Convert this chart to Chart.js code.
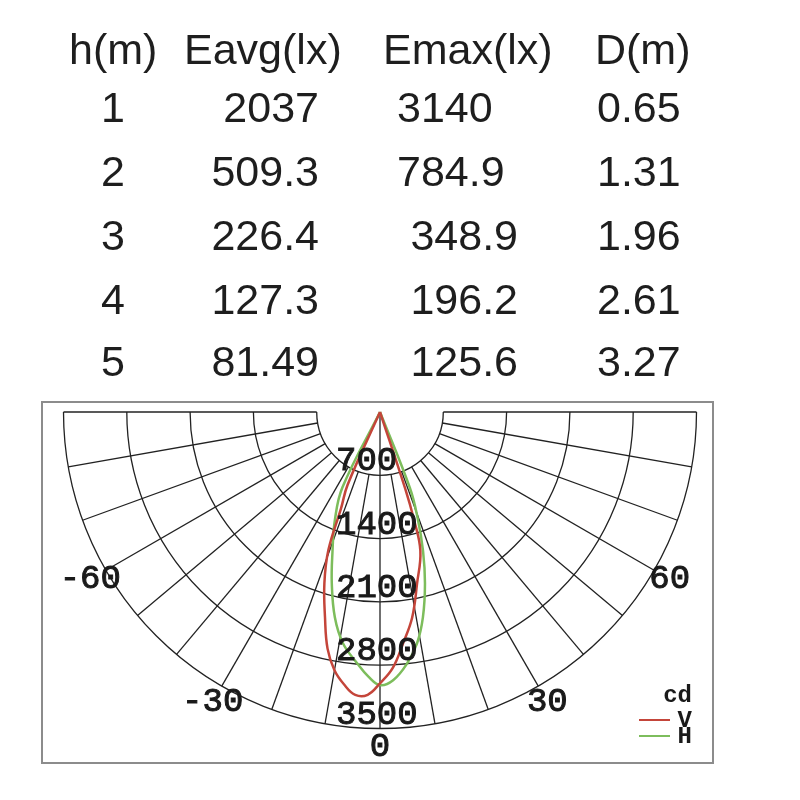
<!DOCTYPE html>
<html>
<head>
<meta charset="utf-8">
<script src="https://cdn.jsdelivr.net/npm/chart.js@4.4.1/dist/chart.umd.min.js"></script>
<style>
  html, body { margin: 0; padding: 0; background: #fff; }
  #wrap { width: 800px; height: 800px; }
</style>
</head>
<body>
<div id="wrap"><canvas id="polar" width="800" height="800"></canvas></div>
<script>
// illuminance table
const tableHeaders = ['h(m)', 'Eavg(lx)', 'Emax(lx)', 'D(m)'];
const heights = ['1', '2', '3', '4', '5'];
const eavg = ['2037', '509.3', '226.4', '127.3', '81.49'];
const emax = ['3140', '784.9', '348.9', '196.2', '125.6'];
const beamDiam = ['0.65', '1.31', '1.96', '2.61', '3.27'];

// light distribution (angle from nadir in degrees, intensity in cd)
const vAngles = [-30, -24, -22, -20.5, -18, -15, -12.5, -10, -7.5, -5, -2.5, 0, 2.9, 5.7, 8.9, 12.2, 16.2, 17.5, 18.2, 22];
const vCandela = [0, 880, 1150, 1630, 1990, 2350, 2680, 2900, 3040, 3140, 3130, 3000, 2830, 2570, 2300, 1940, 1600, 1250, 890, 0];
const hAngles = [-31, -26.5, -22.6, -18.7, -15.7, -12.4, -9.1, -5.2, -2.5, 0, 2.8, 6.1, 9.1, 11.8, 14.7, 17.2, 19.5, 21.5, 26];
const hCandela = [0, 930, 1300, 1640, 1970, 2325, 2590, 2790, 2930, 3020, 2970, 2800, 2590, 2320, 1960, 1610, 1250, 900, 0];

// axis labels
const ringValues = [700, 1400, 2100, 2800, 3500];
const angleLabels = [-60, -30, 0, 30, 60];
const unitLabel = 'cd';

// layout (pixels)
const CX = 380, CY = 412, R_PX = 316.5;
const FRAME = { left: 42, top: 402, right: 713, bottom: 763 };
const cdPerPx = ringValues[ringValues.length - 1] / R_PX;

function toXY(angles, values) {
  return angles.map((a, i) => {
    const t = a * Math.PI / 180;
    return { x: values[i] * Math.sin(t), y: -values[i] * Math.cos(t) };
  });
}

function polarPx(chart, angle, value) {
  const t = angle * Math.PI / 180;
  return [chart.scales.x.getPixelForValue(value * Math.sin(t)),
          chart.scales.y.getPixelForValue(-value * Math.cos(t))];
}

// fill + thin stroke to get the heavier look of the scanned labels
function heavyText(ctx, s, x, y, w) {
  ctx.fillText(s, x, y);
  ctx.lineWidth = w;
  ctx.strokeText(s, x, y);
}

const polarGrid = {
  id: 'polarGrid',
  beforeDatasetsDraw(chart) {
    const { ctx, chartArea } = chart;
    const [ox, oy] = polarPx(chart, 0, 0);
    const inner = ringValues[0], outer = ringValues[ringValues.length - 1];
    ctx.save();
    ctx.strokeStyle = '#8c8c8c';
    ctx.lineWidth = 2;
    ctx.strokeRect(chartArea.left, chartArea.top, chartArea.width, chartArea.height);

    ctx.strokeStyle = '#222';
    ctx.lineWidth = 1.3;
    ringValues.forEach(v => {
      const r = chart.scales.x.getPixelForValue(v) - ox;
      ctx.beginPath();
      ctx.arc(ox, oy, r, 0, Math.PI);
      ctx.stroke();
    });
    for (let a = -90; a <= 90; a += 10) {
      const [x0, y0] = polarPx(chart, a, a === 0 ? 0 : inner);
      const [x1, y1] = polarPx(chart, a, outer);
      ctx.beginPath();
      ctx.moveTo(x0, y0);
      ctx.lineTo(x1, y1);
      ctx.stroke();
    }
    ctx.restore();
  },
  afterDatasetsDraw(chart) {
    const { ctx } = chart;
    const [ox] = polarPx(chart, 0, 0);
    ctx.save();
    ctx.fillStyle = '#1a1a1a';
    ctx.strokeStyle = '#1a1a1a';

    // intensity rings
    ctx.font = '34px "Liberation Mono", "Courier New", monospace';
    ctx.textAlign = 'left';
    ctx.textBaseline = 'alphabetic';
    ringValues.forEach(v => {
      const y = chart.scales.y.getPixelForValue(-v);
      heavyText(ctx, String(v), ox - 44, y - 5, 1);
    });

    // angles
    ctx.textAlign = 'center';
    ctx.textBaseline = 'middle';
    angleLabels.forEach(a => {
      const [x, y] = polarPx(chart, a, 3700);
      heavyText(ctx, String(a), x, y, 1);
    });

    // legend
    ctx.font = 'bold 24px "Liberation Mono", "Courier New", monospace';
    ctx.textAlign = 'right';
    ctx.textBaseline = 'alphabetic';
    ctx.fillText(unitLabel, 692, 702);
    chart.data.datasets.forEach((ds, i) => {
      const base = 727 + i * 16;
      ctx.fillStyle = '#1a1a1a';
      ctx.fillText(ds.label, 692, base);
      ctx.strokeStyle = ds.borderColor;
      ctx.lineWidth = 2;
      ctx.beginPath();
      ctx.moveTo(639, base - 7);
      ctx.lineTo(670, base - 7);
      ctx.stroke();
    });
    ctx.restore();
  },
  afterDraw(chart) {
    const { ctx } = chart;
    ctx.save();
    ctx.fillStyle = '#1e1e1e';
    ctx.font = '43px "Liberation Sans", Arial, sans-serif';
    ctx.textBaseline = 'alphabetic';
    const headerX = [69, 184, 383, 595];
    ctx.textAlign = 'left';
    tableHeaders.forEach((h, i) => ctx.fillText(h, headerX[i], 64));
    const rowY = [122, 186, 250, 314, 376];
    heights.forEach((v, i) => {
      ctx.textAlign = 'center';
      ctx.fillText(v, 113, rowY[i]);
      ctx.textAlign = 'right';
      ctx.fillText(eavg[i], 319, rowY[i]);
      if (i < 2) {
        ctx.textAlign = 'left';
        ctx.fillText(emax[i], 397, rowY[i]);
      } else {
        ctx.textAlign = 'right';
        ctx.fillText(emax[i], 518, rowY[i]);
      }
      ctx.textAlign = 'left';
      ctx.fillText(beamDiam[i], 597, rowY[i]);
    });
    ctx.restore();
  }
};

new Chart(document.getElementById('polar'), {
  type: 'scatter',
  data: {
    datasets: [{
      label: 'V',
      data: toXY(vAngles, vCandela),
      showLine: true,
      borderColor: '#c4453a',
      borderWidth: 2.5,
      pointRadius: 0,
      tension: 0.4,
      fill: false
    }, {
      label: 'H',
      data: toXY(hAngles, hCandela),
      showLine: true,
      borderColor: '#7dbd5c',
      borderWidth: 2.5,
      pointRadius: 0,
      tension: 0.4,
      fill: false
    }]
  },
  options: {
    responsive: false,
    animation: false,
    layout: {
      padding: { left: FRAME.left, top: FRAME.top, right: 800 - FRAME.right, bottom: 800 - FRAME.bottom }
    },
    scales: {
      x: { type: 'linear', display: false, min: (FRAME.left - CX) * cdPerPx, max: (FRAME.right - CX) * cdPerPx },
      y: { type: 'linear', display: false, min: -(FRAME.bottom - CY) * cdPerPx, max: (CY - FRAME.top) * cdPerPx }
    },
    plugins: {
      legend: { display: false },
      tooltip: { enabled: false }
    }
  },
  plugins: [polarGrid]
});
</script>
</body>
</html>
